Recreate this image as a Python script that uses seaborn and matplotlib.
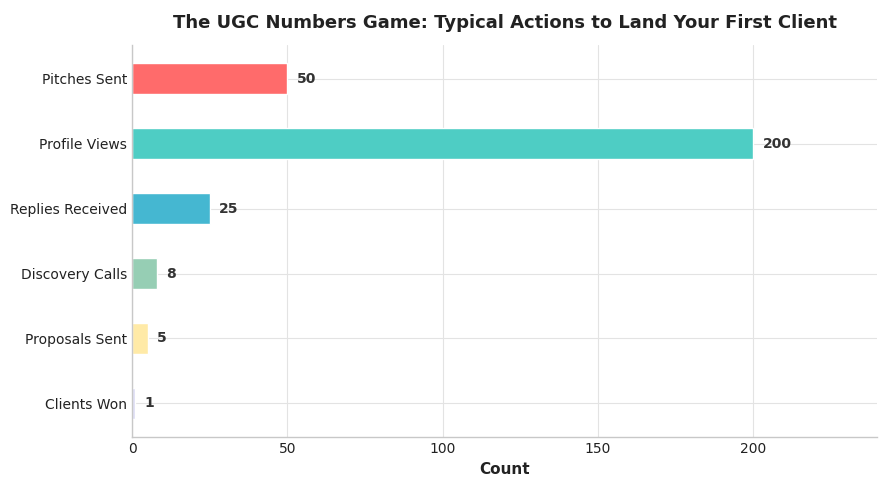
import matplotlib
matplotlib.use("Agg")
import matplotlib.pyplot as plt
import seaborn as sns
import pandas as pd

stages = ["Pitches Sent", "Profile Views", "Replies Received",
          "Discovery Calls", "Proposals Sent", "Clients Won"]
counts = [50, 200, 25, 8, 5, 1]
colors = ["#FF6B6B", "#4ECDC4", "#45B7D1", "#96CEB4", "#FFEAA7", "#DCDCF5"]

df = pd.DataFrame({"stage": stages, "count": counts})

sns.set_theme(style="whitegrid")
plt.rcParams["font.family"] = ["DejaVu Sans"]

fig, ax = plt.subplots(figsize=(8.87, 4.86), dpi=100)
sns.barplot(data=df, y="stage", x="count", hue="stage", palette=colors,
            saturation=1, legend=False, width=0.48, edgecolor="white",
            linewidth=1, ax=ax)

for i, v in enumerate(counts):
    ax.text(v + 3, i, f"{v}", va="center", ha="left",
            fontsize=10, fontweight="bold", color="#333333")

ax.set_xlim(0, 240)
ax.set_ylim(5.525, -0.525)
ax.set_title("The UGC Numbers Game: Typical Actions to Land Your First Client",
             fontsize=13, fontweight="bold", color="#222222", pad=12)
ax.set_xlabel("Count", fontsize=11, fontweight="bold", color="#222222")
ax.set_ylabel("")
ax.tick_params(axis="both", labelsize=10, colors="#222222", length=0)
ax.grid(True, color="#e3e3e3", linewidth=0.8)
ax.set_axisbelow(True)
for s in ["top", "right"]:
    ax.spines[s].set_visible(False)
for s in ["left", "bottom"]:
    ax.spines[s].set_color("#c8c8c8")
    ax.spines[s].set_linewidth(1)

plt.subplots_adjust(left=0.149, right=0.989, top=0.908, bottom=0.10)
plt.savefig("out.png", dpi=100)
